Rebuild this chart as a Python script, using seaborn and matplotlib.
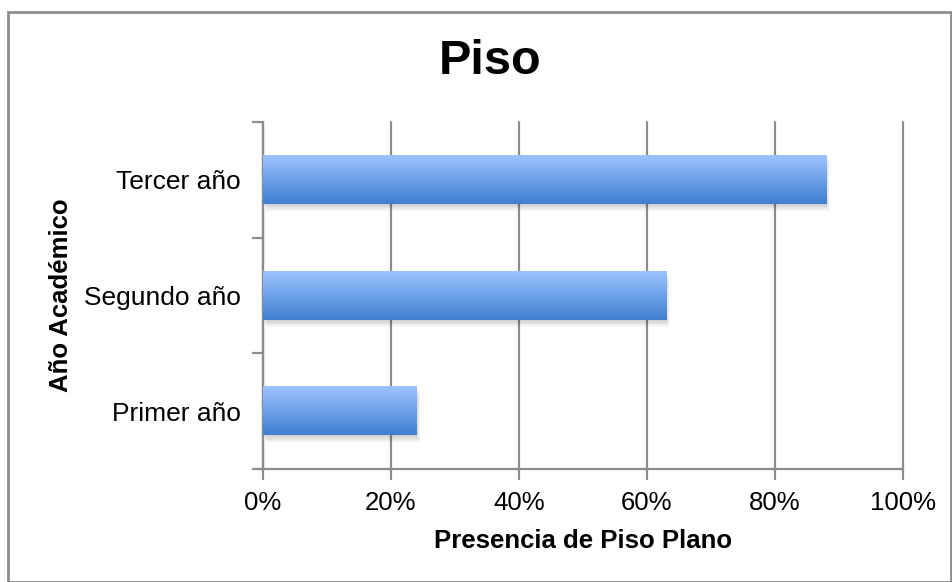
import numpy as np
import pandas as pd
import seaborn as sns
import matplotlib.pyplot as plt
from matplotlib.colors import LinearSegmentedColormap
from matplotlib.patches import Rectangle

# data
categories = ["Tercer año", "Segundo año", "Primer año"]
values = [88, 63, 24]
x_ticks = [0, 20, 40, 60, 80, 100]

sns.set_theme(style="white")
plt.rcParams["font.family"] = ["Liberation Sans", "DejaVu Sans"]
plt.rcParams["text.color"] = "black"

df = pd.DataFrame({"year": categories, "pct": values})

fig = plt.figure(figsize=(9.53, 5.82), dpi=100)
ax = fig.add_axes([263 / 953, 1 - 469 / 582, 640 / 953, 347 / 582])

sns.barplot(data=df, x="pct", y="year", order=categories, orient="h",
            width=0.42, color="#6a9ee8", ax=ax, zorder=3)

# gradient fill + soft shadow for each bar
grad = LinearSegmentedColormap.from_list("bar", ["#9cc3ff", "#3f7fd2"])
img = np.linspace(0, 1, 64).reshape(-1, 1)
for p in ax.patches:
    x0, y0 = p.get_x(), p.get_y()
    w, h = p.get_width(), p.get_height()
    for k in range(1, 6):
        ax.add_patch(Rectangle((x0 + 0.1 * k, y0 + 0.012 * k), w, h,
                               facecolor="black", alpha=0.035, lw=0, zorder=2))
    ax.imshow(img, cmap=grad, aspect="auto", extent=[x0, x0 + w, y0 + h, y0],
              zorder=4, interpolation="bicubic")
    p.set_visible(False)
ax.set_xlim(0, 100)
ax.set_ylim(2.5, -0.5)

ax.set_xticks(x_ticks)
ax.set_xticklabels([f"{t}%" for t in x_ticks])
ax.set_yticks([0, 1, 2])
ax.set_yticklabels(categories)
ax.set_yticks([-0.5, 0.5, 1.5, 2.5], minor=True)

ax.xaxis.grid(True, color="#8c8c8c", linewidth=1.6, zorder=1)
for gl in ax.get_xgridlines():
    gl.set_clip_on(False)
ax.set_axisbelow(True)
for s in ["top", "right"]:
    ax.spines[s].set_visible(False)
for s in ["left", "bottom"]:
    ax.spines[s].set_color("#8c8c8c")
    ax.spines[s].set_linewidth(1.6)

ax.tick_params(axis="x", which="major", length=8, width=1.6, color="#8c8c8c",
               labelsize=18.5, labelcolor="black", pad=8, bottom=True)
ax.tick_params(axis="y", which="major", length=0, labelsize=19,
               labelcolor="black", pad=16)
ax.tick_params(axis="y", which="minor", length=8, width=1.6, color="#8c8c8c", left=True)

ax.set_xlabel("Presencia de Piso Plano", fontsize=18.5, fontweight="bold",
              color="black", labelpad=10)
ax.set_ylabel("Año Académico", fontsize=18.5, fontweight="bold",
              color="black", labelpad=8)

fig.text(490 / 953, 1 - 62 / 582, "Piso", fontsize=35, fontweight="bold",
         ha="center", va="center", color="black")

# chart outer border
fig.add_artist(Rectangle((8 / 953, 0), 943 / 953, 1 - 12 / 582, transform=fig.transFigure,
                         fill=False, edgecolor="#8c8c8c", linewidth=2))

fig.savefig("out.png", dpi=100)
